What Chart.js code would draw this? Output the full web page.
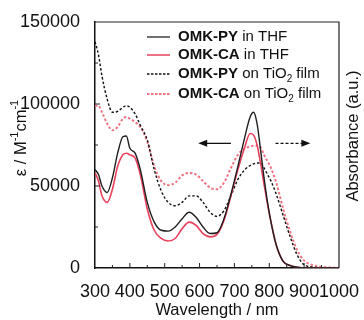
<!DOCTYPE html>
<html>
<head>
<meta charset="utf-8">
<script src="https://cdn.jsdelivr.net/npm/chart.js@4"></script>
<style>
  body { margin: 0; background: #fff; }
  #wrap { width: 364px; height: 320px; }
</style>
</head>
<body>
<div id="wrap"><canvas id="chart" width="364" height="320"></canvas></div>
<script>
// wavelength grid (nm) shared by all four spectra
const wavelengths = [300, 310, 320, 335, 350, 365, 380, 390, 400, 415, 430, 450, 470, 490, 510, 530, 550, 570, 590, 610, 630, 650, 670, 690, 710, 730, 745, 755, 765, 775, 785, 795, 805, 820, 840, 860, 880, 900, 930, 960, 1000];

// OMK-PY in THF (epsilon, M-1 cm-1)
const pyThf = [60000, 57000, 50000, 46000, 55000, 70000, 80000, 80500, 73000, 70000, 60000, 40000, 28000, 23000, 22500, 25000, 30000, 34000, 31000, 25000, 21000, 21500, 30000, 45000, 62000, 80000, 92000, 95000, 88000, 72000, 55000, 40000, 28000, 14000, 4000, 1500, 500, 0, 0, 0, 0];
// OMK-CA in THF
const caThf = [58000, 53000, 44000, 40000, 48000, 62000, 69000, 70000, 69000, 67000, 57000, 36000, 23000, 18000, 16500, 18000, 24000, 28000, 26000, 21000, 19000, 20500, 29000, 44000, 60000, 74000, 82000, 81000, 75000, 64000, 51000, 39000, 28000, 14000, 4000, 1500, 500, 0, 0, 0, 0];
// OMK-PY on TiO2 film (absorbance, shown on the same scale)
const pyFilm = [138000, 130000, 117000, 103000, 95000, 95500, 98000, 99000, 98000, 94000, 87000, 78000, 60000, 47000, 40000, 38000, 40000, 44000, 44000, 40000, 34000, 31500, 35000, 44000, 54000, 60000, 62500, 63500, 64000, 64000, 61000, 57000, 53000, 45000, 32000, 19000, 8000, 2000, 500, 0, 0];
// OMK-CA on TiO2 film
const caFilm = [99000, 99000, 95000, 88000, 84000, 86000, 91000, 92000, 91000, 89000, 86000, 77000, 62000, 53000, 50500, 52000, 56500, 58000, 57000, 53000, 49000, 48000, 52000, 61000, 69000, 73000, 74000, 74500, 74500, 73500, 69000, 65000, 61000, 52000, 36000, 22000, 11000, 4500, 1500, 500, 0];

const xTicks = [300, 400, 500, 600, 700, 800, 900, 1000];
const yTicks = [0, 50000, 100000, 150000];

const FONT = '"Liberation Sans", Arial, sans-serif';

function toPoints(ys) {
    return wavelengths.map((x, i) => ({ x: x, y: ys[i] }));
}

// inward ticks, frame, arrows, legend and the titles with sub/superscripts
const decorPlugin = {
    id: 'decor',
    afterDraw(chart) {
        const ctx = chart.ctx;
        const area = chart.chartArea;
        const xs = chart.scales.x;
        const ys = chart.scales.y;
        ctx.save();

        // frame
        ctx.strokeStyle = '#222';
        ctx.lineWidth = 1.2;
        ctx.beginPath();
        ctx.moveTo(area.left, area.top);
        ctx.lineTo(area.right, area.top);
        ctx.lineTo(area.right, area.bottom);
        ctx.stroke();

        // tick marks pointing into the plot
        ctx.lineWidth = 1;
        ctx.beginPath();
        for (let v = 350; v < 1000; v += 50) {
            const px = xs.getPixelForValue(v);
            const len = v % 100 === 0 ? 5 : 3;
            ctx.moveTo(px, area.bottom);
            ctx.lineTo(px, area.bottom - len);
        }
        for (let v = 25000; v < 150000; v += 25000) {
            const py = ys.getPixelForValue(v);
            const len = v % 50000 === 0 ? 5 : 3;
            ctx.moveTo(area.left, py);
            ctx.lineTo(area.left + len, py);
        }
        ctx.stroke();

        // arrows showing which axis each pair of curves belongs to
        const ay = ys.getPixelForValue(76000);
        const l1 = xs.getPixelForValue(690), l0 = xs.getPixelForValue(596);
        const r0 = xs.getPixelForValue(818), r1 = xs.getPixelForValue(918);
        ctx.strokeStyle = '#111';
        ctx.fillStyle = '#111';
        ctx.lineWidth = 1.3;
        ctx.beginPath();
        ctx.moveTo(l1, ay);
        ctx.lineTo(l0 + 7, ay);
        ctx.stroke();
        ctx.beginPath();
        ctx.moveTo(l0, ay);
        ctx.lineTo(l0 + 9, ay - 3.5);
        ctx.lineTo(l0 + 9, ay + 3.5);
        ctx.closePath();
        ctx.fill();
        ctx.setLineDash([3, 2]);
        ctx.beginPath();
        ctx.moveTo(r0, ay);
        ctx.lineTo(r1 - 7, ay);
        ctx.stroke();
        ctx.setLineDash([]);
        ctx.beginPath();
        ctx.moveTo(r1, ay);
        ctx.lineTo(r1 - 9, ay - 3.5);
        ctx.lineTo(r1 - 9, ay + 3.5);
        ctx.closePath();
        ctx.fill();

        // legend
        const rows = [
            { y: 37, color: '#222', dash: [], width: 1.3, bold: 'OMK-PY', rest: ' in THF', sub: false },
            { y: 55, color: '#e8415c', dash: [], width: 1.5, bold: 'OMK-CA', rest: ' in THF', sub: false },
            { y: 74, color: '#111', dash: [2.5, 1.5], width: 1.3, bold: 'OMK-PY', rest: ' on TiO', sub: true },
            { y: 94, color: '#ef7380', dash: [2.5, 1.5], width: 1.8, bold: 'OMK-CA', rest: ' on TiO', sub: true }
        ];
        ctx.textBaseline = 'middle';
        ctx.textAlign = 'left';
        rows.forEach(r => {
            ctx.strokeStyle = r.color;
            ctx.lineWidth = r.width;
            ctx.setLineDash(r.dash);
            ctx.beginPath();
            ctx.moveTo(147, r.y);
            ctx.lineTo(170, r.y);
            ctx.stroke();
            ctx.setLineDash([]);
            ctx.fillStyle = '#111';
            let x = 178;
            ctx.font = 'bold 15px ' + FONT;
            ctx.fillText(r.bold, x, r.y);
            x += ctx.measureText(r.bold).width;
            ctx.font = '15px ' + FONT;
            ctx.fillText(r.rest, x, r.y);
            x += ctx.measureText(r.rest).width;
            if (r.sub) {
                ctx.font = '10px ' + FONT;
                ctx.fillText('2', x, r.y + 5);
                x += ctx.measureText('2').width;
                ctx.font = '15px ' + FONT;
                ctx.fillText(' film', x, r.y);
            }
        });

        // y title: ε / M-1cm-1
        ctx.save();
        ctx.translate(21, 138);
        ctx.rotate(-Math.PI / 2);
        const parts = [['ε / M', false], ['-1', true], ['cm', false], ['-1', true]];
        let total = 0;
        parts.forEach(p => {
            ctx.font = (p[1] ? '11px ' : '16.5px ') + FONT;
            total += ctx.measureText(p[0]).width;
        });
        let tx = -total / 2;
        parts.forEach(p => {
            ctx.font = (p[1] ? '11px ' : '16.5px ') + FONT;
            ctx.fillText(p[0], tx, p[1] ? -6 : 0);
            tx += ctx.measureText(p[0]).width;
        });
        ctx.restore();

        // right title
        ctx.save();
        ctx.translate(353, 136);
        ctx.rotate(-Math.PI / 2);
        ctx.textAlign = 'center';
        ctx.font = '16.5px ' + FONT;
        ctx.fillText('Absorbance (a.u.)', 0, 0);
        ctx.restore();

        ctx.restore();
    }
};

new Chart(document.getElementById('chart'), {
    type: 'line',
    data: {
        datasets: [
            { label: 'OMK-PY in THF', data: toPoints(pyThf), borderColor: '#1e1e1e', borderWidth: 1.4 },
            { label: 'OMK-CA in THF', data: toPoints(caThf), borderColor: '#e8415c', borderWidth: 1.6 },
            { label: 'OMK-PY on TiO2 film', data: toPoints(pyFilm), borderColor: '#111', borderWidth: 1.4, borderDash: [2.5, 2] },
            { label: 'OMK-CA on TiO2 film', data: toPoints(caFilm), borderColor: '#ef7380', borderWidth: 2, borderDash: [2.5, 2] }
        ]
    },
    options: {
        responsive: false,
        animation: false,
        events: [],
        layout: { padding: { top: 22, right: 23, left: 0, bottom: 0 } },
        elements: {
            point: { radius: 0 },
            line: { cubicInterpolationMode: 'monotone', fill: false }
        },
        plugins: {
            legend: { display: false },
            tooltip: { enabled: false }
        },
        scales: {
            x: {
                type: 'linear',
                min: 300,
                max: 1000,
                afterFit: s => { s.height = 52; },
                afterBuildTicks: s => { s.ticks = xTicks.map(v => ({ value: v })); },
                grid: { display: false },
                border: { display: true, color: '#111', width: 1.5 },
                ticks: {
                    autoSkip: false,
                    maxRotation: 0,
                    minRotation: 0,
                    padding: 5,
                    color: '#111',
                    font: { family: FONT, size: 18 },
                    callback: v => String(v)
                },
                title: {
                    display: true,
                    text: 'Wavelength / nm',
                    color: '#111',
                    padding: { top: 0, bottom: 0 },
                    font: { family: FONT, size: 16.5 }
                }
            },
            y: {
                min: 0,
                max: 150000,
                afterFit: s => { s.width = 95; },
                afterBuildTicks: s => { s.ticks = yTicks.map(v => ({ value: v })); },
                grid: { display: false },
                border: { display: true, color: '#111', width: 1.5 },
                ticks: {
                    padding: 7,
                    color: '#111',
                    font: { family: FONT, size: 18 },
                    callback: v => String(v)
                }
            }
        }
    },
    plugins: [decorPlugin]
});
</script>
</body>
</html>
